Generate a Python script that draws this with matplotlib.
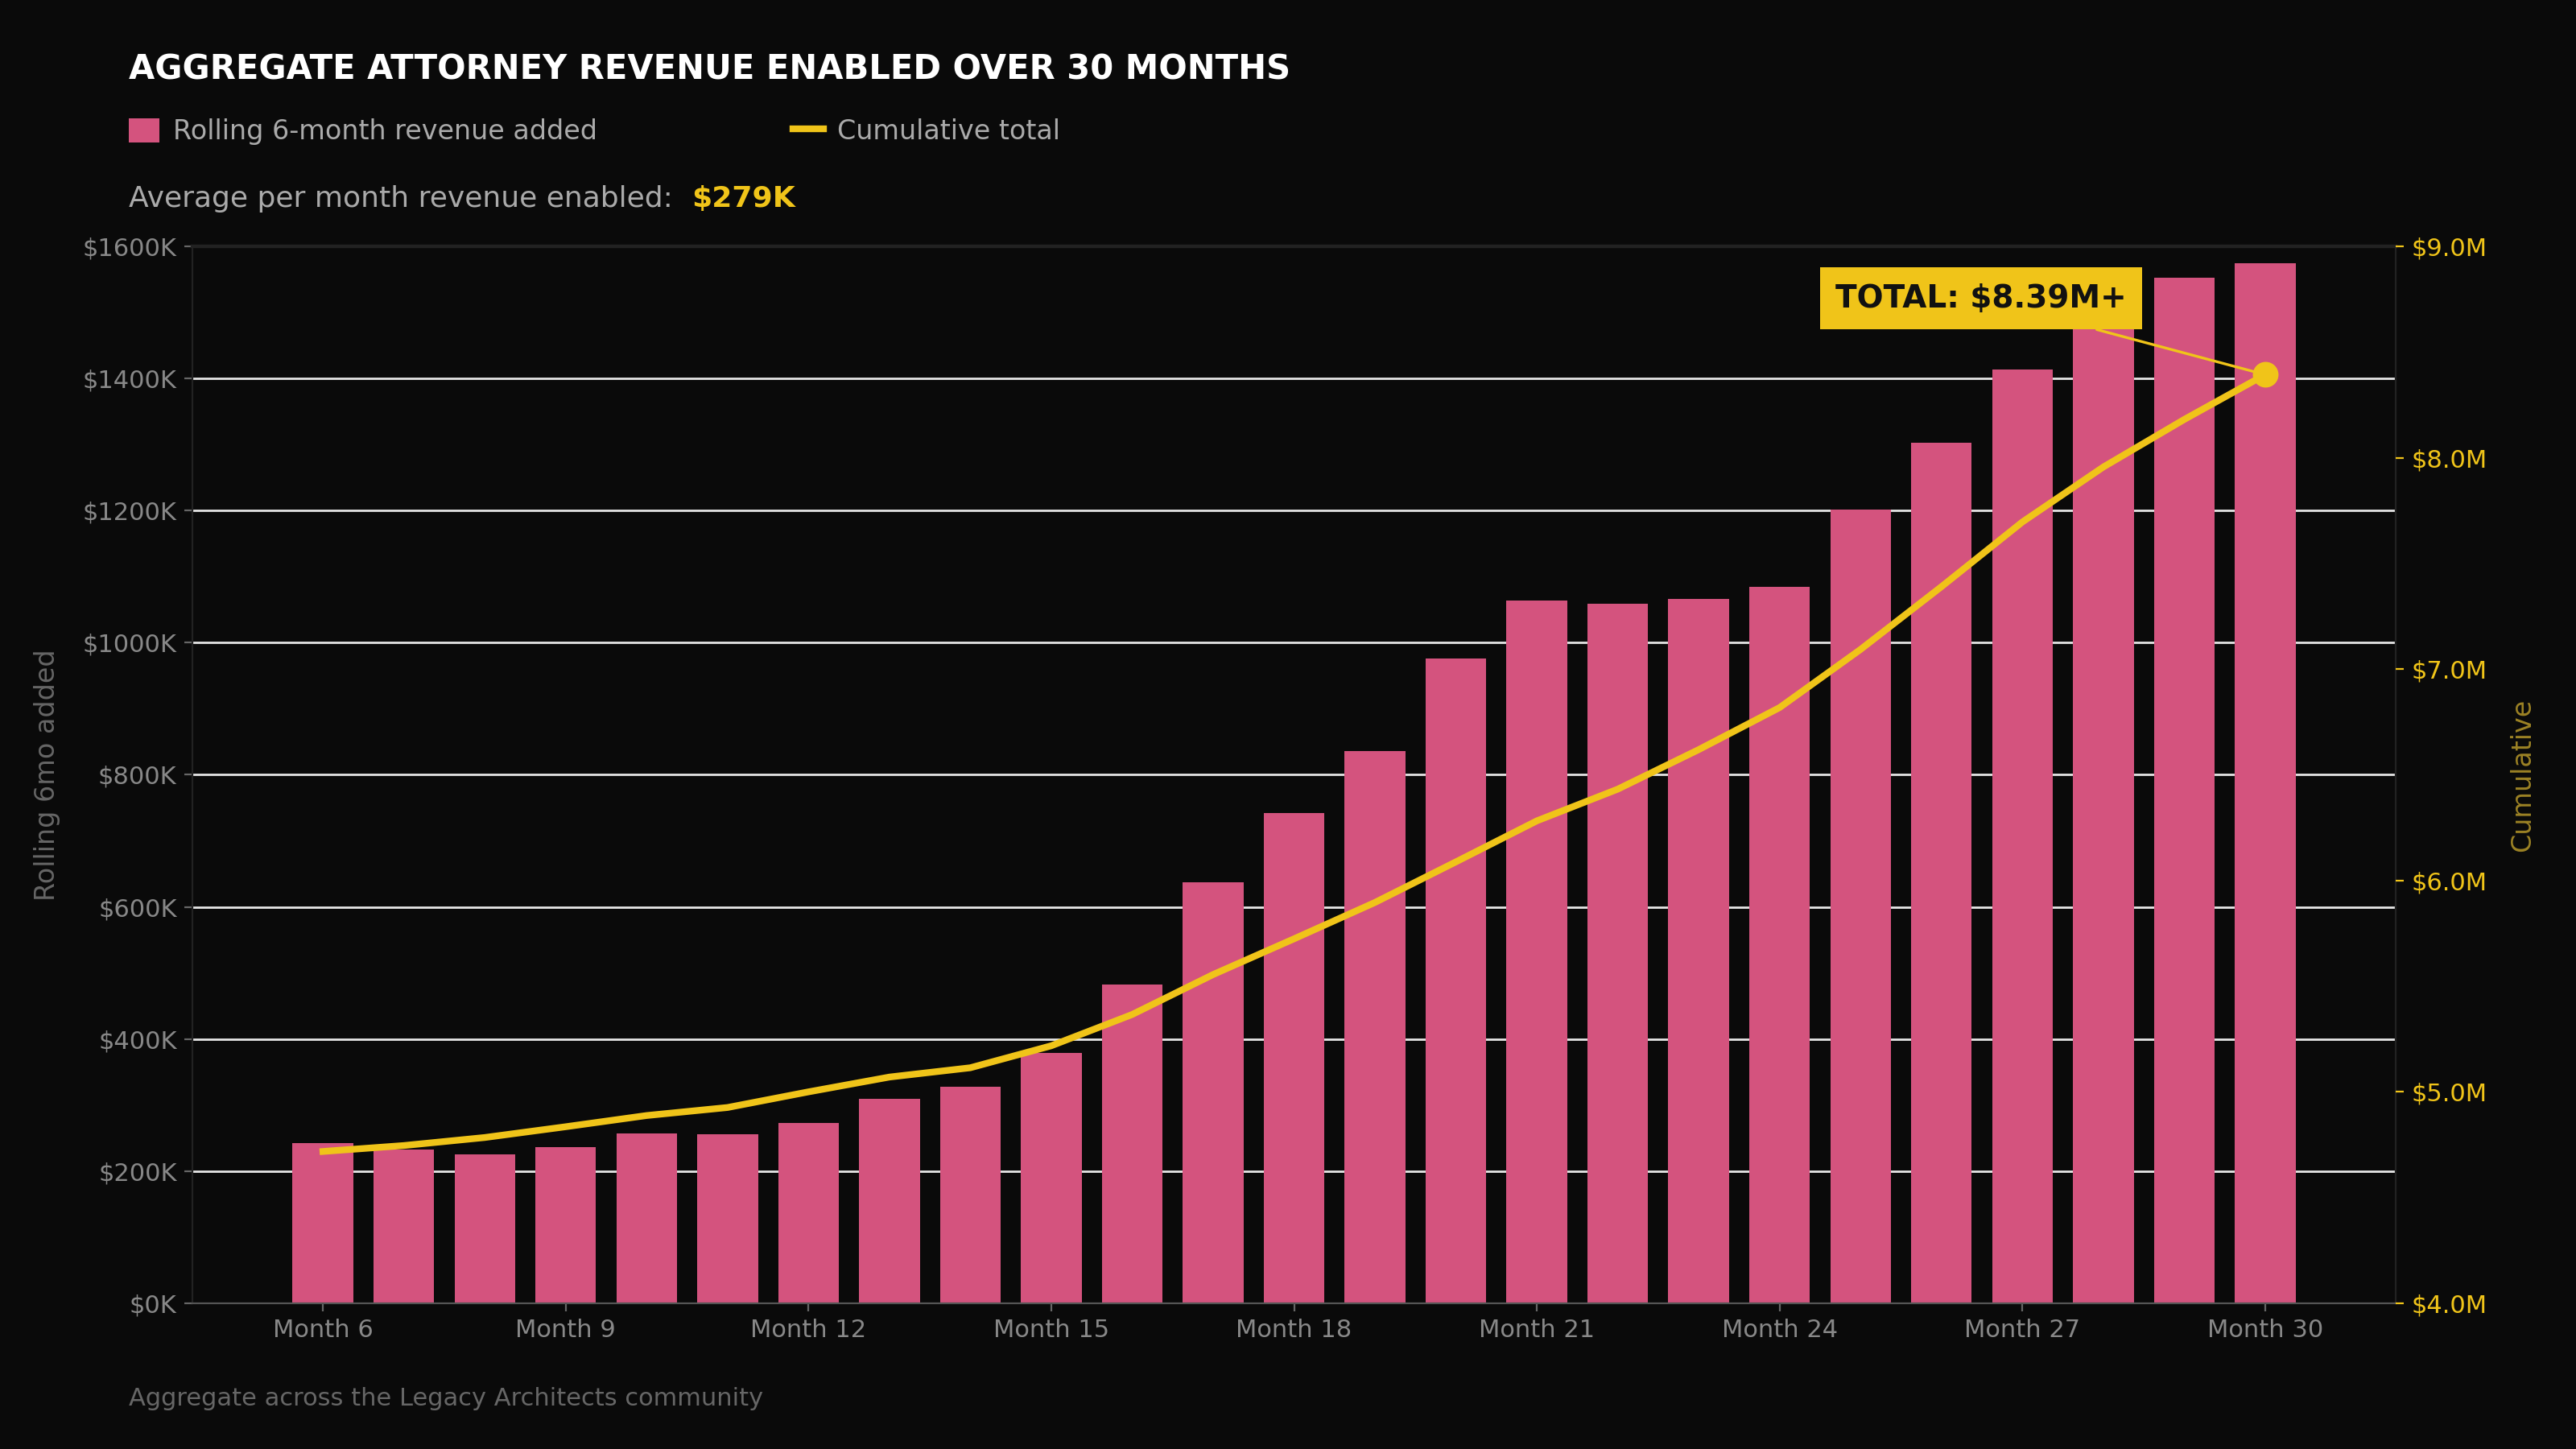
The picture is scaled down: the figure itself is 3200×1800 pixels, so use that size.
import matplotlib
matplotlib.use("Agg")
import matplotlib.pyplot as plt
from matplotlib.patches import Patch
from matplotlib.lines import Line2D
from matplotlib.ticker import FuncFormatter

# data
months = list(range(6, 31))
rolling_k = [243, 233, 225, 236, 257, 256, 273, 310, 328, 379, 483, 637, 742,
             836, 976, 1064, 1059, 1066, 1085, 1202, 1303, 1413, 1490, 1553, 1575]
cumulative_m = [4.718, 4.746, 4.784, 4.835, 4.888, 4.926, 5.000, 5.070, 5.114,
                5.218, 5.366, 5.555, 5.724, 5.896, 6.088, 6.282, 6.432, 6.619,
                6.818, 7.093, 7.390, 7.696, 7.956, 8.181, 8.393]
tick_months = [6, 9, 12, 15, 18, 21, 24, 27, 30]

BG = "#0a0a0a"
PINK = "#d4537e"
GOLD = "#f0c419"

fig = plt.figure(figsize=(16, 9), dpi=200, facecolor=BG)
ax = fig.add_axes([0.0747, 0.1006, 0.8553, 0.7294])
ax.set_facecolor(BG)

ax.bar(months, rolling_k, width=0.75, color=PINK, zorder=2)
ax.set_ylim(0, 1600)
ax.set_yticks(range(0, 1601, 200))
ax.yaxis.set_major_formatter(FuncFormatter(lambda v, p: f"${int(v)}K"))
ax.set_xticks(tick_months)
ax.set_xticklabels([f"Month {m}" for m in tick_months])
ax.set_axisbelow(True)
ax.grid(axis="y", color="#e6e6e6", linewidth=1.0)
ax.tick_params(axis="both", colors="#666666", labelcolor="#888888", labelsize=11)
ax.set_ylabel("Rolling 6mo added", color="#666666", fontsize=12, labelpad=10)
for side in ["top", "left", "right"]:
    ax.spines[side].set_color("#222222")
ax.spines["top"].set_linewidth(1.6)
ax.spines["bottom"].set_color("#555555")

ax2 = ax.twinx()
ax2.plot(months, cumulative_m, color=GOLD, linewidth=3, zorder=3)
ax2.scatter([months[-1]], [cumulative_m[-1]], s=110, color=GOLD, zorder=4)
ax2.set_ylim(4.0, 9.0)
ax2.set_yticks([4, 5, 6, 7, 8, 9])
ax2.yaxis.set_major_formatter(FuncFormatter(lambda v, p: f"${v:.1f}M"))
ax2.tick_params(axis="y", colors=GOLD, labelcolor=GOLD, labelsize=11)
ax2.set_ylabel("Cumulative", color="#9c8225", fontsize=12, labelpad=10)
for side in ["top", "left", "right", "bottom"]:
    ax2.spines[side].set_visible(False)

ax2.annotate(f"TOTAL: ${cumulative_m[-1]:.2f}M+",
             xy=(months[-1], cumulative_m[-1]), xytext=(-127, 34),
             textcoords="offset points", ha="center", va="center",
             fontsize=14, fontweight="bold", color="#111111",
             bbox=dict(boxstyle="square,pad=0.5", facecolor=GOLD, edgecolor="none"),
             arrowprops=dict(arrowstyle="-", color=GOLD, linewidth=1.2,
                             shrinkA=0, shrinkB=4))

# header text
fig.text(0.05, 0.952, "AGGREGATE ATTORNEY REVENUE ENABLED OVER 30 MONTHS",
         color="white", fontsize=15, fontweight="bold", va="center")
handles = [Patch(facecolor=PINK, edgecolor="none"),
           Line2D([0], [0], color=GOLD, linewidth=3)]
fig.legend(handles, ["Rolling 6-month revenue added", "Cumulative total"],
           loc="center left", bbox_to_anchor=(0.0405, 0.909), ncol=2, frameon=False,
           fontsize=12, labelcolor="#aaaaaa", columnspacing=7.3, handlelength=1.15,
           handleheight=1.0, handletextpad=0.5)
fig.text(0.05, 0.863, "Average per month revenue enabled:", color="#aaaaaa",
         fontsize=13, va="center")
fig.text(0.2685, 0.863, "$279K", color=GOLD, fontsize=13, fontweight="bold",
         va="center")
fig.text(0.05, 0.035, "Aggregate across the Legacy Architects community",
         color="#666666", fontsize=11, va="center")

fig.savefig("out.png", dpi=200, facecolor=BG)
